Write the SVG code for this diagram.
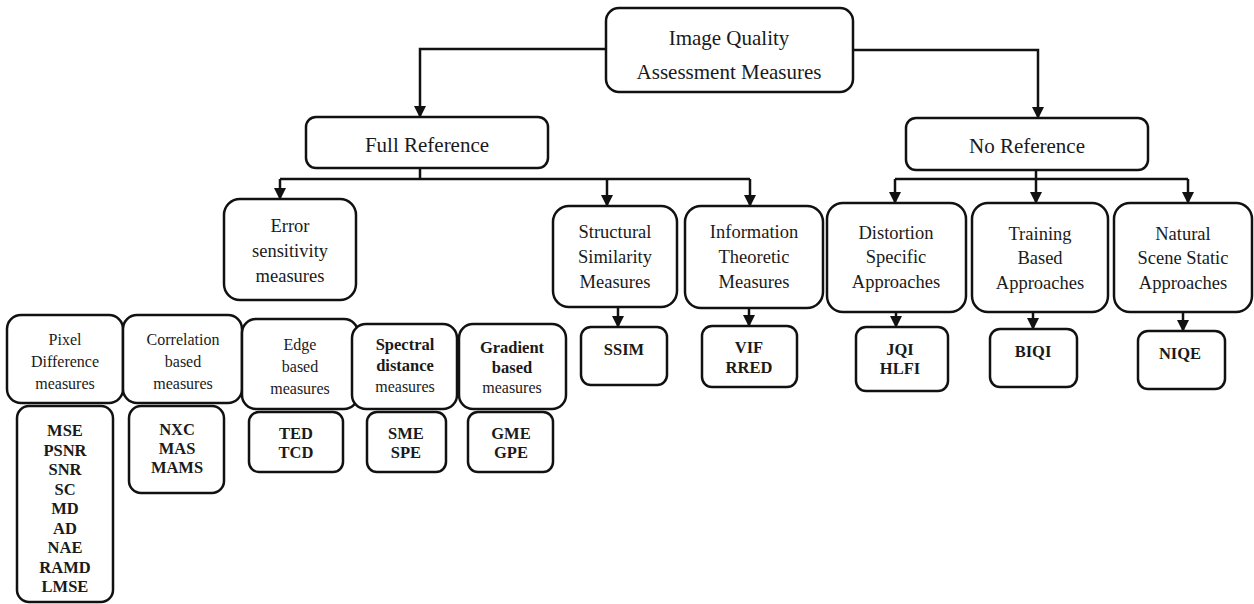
<svg xmlns="http://www.w3.org/2000/svg" width="1254" height="604" viewBox="0 0 1254 604">
<style>
  .box { fill: #fff; stroke: #111; stroke-width: 2.5; }
  .lbl { font-family: 'Liberation Serif', 'Times New Roman', Times, 'DejaVu Serif', serif; fill: #1a1a1a; text-anchor: middle; }
  .t1 { font-size: 21px; }
  .t2 { font-size: 18.5px; }
  .t3 { font-size: 16px; }
  .b { font-weight: bold; font-size: 16.5px; }
  .conn { fill: none; stroke: #111; stroke-width: 2.5; }
</style>
<defs>
  <marker id="arr" markerUnits="userSpaceOnUse" markerWidth="12" markerHeight="12" refX="11" refY="6" orient="auto">
    <path d="M0,0 L12,6 L0,12 z" fill="#111"/>
  </marker>
</defs>
<rect width="1254" height="604" fill="#fff"/>

<g id="connectors">
  <path class="conn" d="M606,49 H420 V117" marker-end="url(#arr)"/>
  <path class="conn" d="M853,50 H1038 V118" marker-end="url(#arr)"/>
  <path class="conn" d="M420,168 V179 M280,179 H750"/>
  <path class="conn" d="M280,179 V199" marker-end="url(#arr)"/>
  <path class="conn" d="M607,179 V206" marker-end="url(#arr)"/>
  <path class="conn" d="M750,179 V206" marker-end="url(#arr)"/>
  <path class="conn" d="M1036,170 V179 M895,179 H1188"/>
  <path class="conn" d="M895,179 V203" marker-end="url(#arr)"/>
  <path class="conn" d="M1036,179 V203" marker-end="url(#arr)"/>
  <path class="conn" d="M1188,179 V203" marker-end="url(#arr)"/>
  <path class="conn" d="M618,307 V327" marker-end="url(#arr)"/>
  <path class="conn" d="M749,308 V326" marker-end="url(#arr)"/>
  <path class="conn" d="M896,312 V327" marker-end="url(#arr)"/>
  <path class="conn" d="M1033,312 V329" marker-end="url(#arr)"/>
  <path class="conn" d="M1183,312 V331" marker-end="url(#arr)"/>
</g>

<g id="iqa">
  <rect class="box" x="606" y="8" width="247" height="84" rx="13"/>
  <text class="lbl t1" x="729" y="45">Image Quality</text>
  <text class="lbl t1" x="729" y="79">Assessment Measures</text>
</g>

<g id="full-reference">
  <rect class="box" x="306" y="117" width="242" height="51" rx="10"/>
  <text class="lbl t1" x="427" y="152">Full Reference</text>
</g>

<g id="no-reference">
  <rect class="box" x="906" y="118" width="242" height="52" rx="10"/>
  <text class="lbl t1" x="1027" y="153">No Reference</text>
</g>

<g id="error-sensitivity">
  <rect class="box" x="224" y="199" width="132" height="101" rx="16"/>
  <text class="lbl t2" x="290" y="232">Error</text>
  <text class="lbl t2" x="290" y="257">sensitivity</text>
  <text class="lbl t2" x="290" y="282">measures</text>
</g>

<g id="structural-similarity">
  <rect class="box" x="553" y="206" width="124" height="101" rx="16"/>
  <text class="lbl t2" x="615" y="238">Structural</text>
  <text class="lbl t2" x="615" y="263">Similarity</text>
  <text class="lbl t2" x="615" y="288">Measures</text>
</g>

<g id="information-theoretic">
  <rect class="box" x="685" y="206" width="138" height="102" rx="16"/>
  <text class="lbl t2" x="754" y="238">Information</text>
  <text class="lbl t2" x="754" y="263">Theoretic</text>
  <text class="lbl t2" x="754" y="288">Measures</text>
</g>

<g id="distortion-specific">
  <rect class="box" x="827" y="203" width="139" height="109" rx="16"/>
  <text class="lbl t2" x="896" y="239">Distortion</text>
  <text class="lbl t2" x="896" y="263">Specific</text>
  <text class="lbl t2" x="896" y="288">Approaches</text>
</g>

<g id="training-based">
  <rect class="box" x="972" y="203" width="136" height="109" rx="16"/>
  <text class="lbl t2" x="1040" y="240">Training</text>
  <text class="lbl t2" x="1040" y="264">Based</text>
  <text class="lbl t2" x="1040" y="289">Approaches</text>
</g>

<g id="natural-scene">
  <rect class="box" x="1114" y="203" width="138" height="109" rx="16"/>
  <text class="lbl t2" x="1183" y="240">Natural</text>
  <text class="lbl t2" x="1183" y="264">Scene Static</text>
  <text class="lbl t2" x="1183" y="289">Approaches</text>
</g>

<g id="ssim">
  <rect class="box" x="581" y="327" width="86" height="58" rx="10"/>
  <text class="lbl b" x="624" y="355">SSIM</text>
</g>

<g id="vif-rred">
  <rect class="box" x="702" y="326" width="95" height="61" rx="10"/>
  <text class="lbl b" x="749" y="353">VIF</text>
  <text class="lbl b" x="749" y="373">RRED</text>
</g>

<g id="jqi-hlfi">
  <rect class="box" x="856" y="327" width="92" height="64" rx="10"/>
  <text class="lbl b" x="900" y="355">JQI</text>
  <text class="lbl b" x="900" y="374">HLFI</text>
</g>

<g id="biqi">
  <rect class="box" x="990" y="329" width="87" height="58" rx="10"/>
  <text class="lbl b" x="1033" y="357">BIQI</text>
</g>

<g id="niqe">
  <rect class="box" x="1138" y="331" width="87" height="58" rx="10"/>
  <text class="lbl b" x="1180" y="359">NIQE</text>
</g>

<g id="pixel-difference">
  <rect class="box" x="7" y="315" width="116" height="88" rx="14"/>
  <text class="lbl t3" x="65" y="345">Pixel</text>
  <text class="lbl t3" x="65" y="367">Difference</text>
  <text class="lbl t3" x="65" y="389">measures</text>
</g>

<g id="correlation-based">
  <rect class="box" x="123" y="315" width="119" height="88" rx="14"/>
  <text class="lbl t3" x="183" y="345">Correlation</text>
  <text class="lbl t3" x="183" y="367">based</text>
  <text class="lbl t3" x="183" y="389">measures</text>
</g>

<g id="edge-based">
  <rect class="box" x="242" y="319" width="116" height="90" rx="14"/>
  <text class="lbl t3" x="300" y="350">Edge</text>
  <text class="lbl t3" x="300" y="372">based</text>
  <text class="lbl t3" x="300" y="394">measures</text>
</g>

<g id="spectral-distance">
  <rect class="box" x="352" y="324" width="105" height="85" rx="14"/>
  <text class="lbl b" x="405" y="350">Spectral</text>
  <text class="lbl b" x="405" y="371">distance</text>
  <text class="lbl t3" x="405" y="392">measures</text>
</g>

<g id="gradient-based">
  <rect class="box" x="459" y="324" width="107" height="85" rx="14"/>
  <text class="lbl b" x="512" y="353">Gradient</text>
  <text class="lbl b" x="512" y="373">based</text>
  <text class="lbl t3" x="512" y="393">measures</text>
</g>

<g id="pixel-values">
  <rect class="box" x="17" y="406" width="96" height="196" rx="12"/>
  <text class="lbl b" x="65" y="436">MSE</text>
  <text class="lbl b" x="65" y="455.5">PSNR</text>
  <text class="lbl b" x="65" y="475">SNR</text>
  <text class="lbl b" x="65" y="494.5">SC</text>
  <text class="lbl b" x="65" y="514">MD</text>
  <text class="lbl b" x="65" y="533.5">AD</text>
  <text class="lbl b" x="65" y="553">NAE</text>
  <text class="lbl b" x="65" y="572.5">RAMD</text>
  <text class="lbl b" x="65" y="592">LMSE</text>
</g>

<g id="correlation-values">
  <rect class="box" x="129" y="406" width="95" height="87" rx="12"/>
  <text class="lbl b" x="177" y="435">NXC</text>
  <text class="lbl b" x="177" y="454">MAS</text>
  <text class="lbl b" x="177" y="473">MAMS</text>
</g>

<g id="edge-values">
  <rect class="box" x="249" y="412" width="94" height="60" rx="10"/>
  <text class="lbl b" x="296" y="439">TED</text>
  <text class="lbl b" x="296" y="458">TCD</text>
</g>

<g id="spectral-values">
  <rect class="box" x="367" y="412" width="79" height="60" rx="10"/>
  <text class="lbl b" x="406" y="439">SME</text>
  <text class="lbl b" x="406" y="458">SPE</text>
</g>

<g id="gradient-values">
  <rect class="box" x="468" y="412" width="85" height="60" rx="10"/>
  <text class="lbl b" x="511" y="439">GME</text>
  <text class="lbl b" x="511" y="458">GPE</text>
</g>
</svg>
